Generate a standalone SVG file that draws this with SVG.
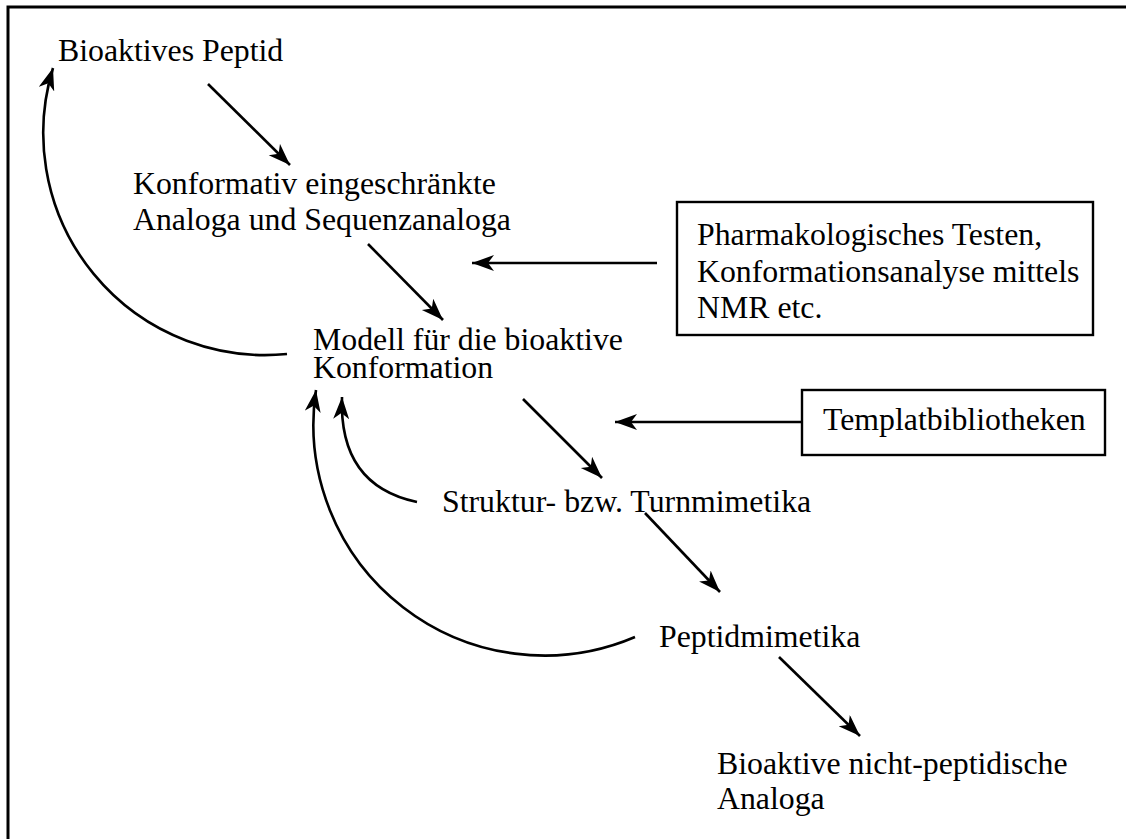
<svg xmlns="http://www.w3.org/2000/svg" width="1126" height="839" viewBox="0 0 1126 839">
<defs>
<style>
text{font-family:"Liberation Serif","Times New Roman",serif;font-size:31.8px;fill:#000}
.ln{fill:none;stroke:#000;stroke-width:2.6}
.box{fill:#fff;stroke:#000;stroke-width:2.4}
.frame{fill:none;stroke:#000;stroke-width:3}
</style>
<marker id="ah" markerUnits="userSpaceOnUse" markerWidth="24" markerHeight="18" refX="22" refY="8" orient="auto" viewBox="0 0 24 18">
<path d="M0,0 L22,8 L0,16 L6,8 Z" fill="#000"/>
</marker>
</defs>
<rect width="1126" height="839" fill="#fff"/>
<path class="frame" d="M8,839 V7 H1126"/>
<g id="connectors">
<path class="ln" d="M208,84 L290,165" marker-end="url(#ah)"/>
<path class="ln" d="M368,244 L443,320" marker-end="url(#ah)"/>
<path class="ln" d="M523,399 L602,478" marker-end="url(#ah)"/>
<path class="ln" d="M645,513 L720,592" marker-end="url(#ah)"/>
<path class="ln" d="M779,657 L860,736" marker-end="url(#ah)"/>
<path class="ln" d="M657,263 L472,263" marker-end="url(#ah)"/>
<path class="ln" d="M802,422 L615,422" marker-end="url(#ah)"/>
<path class="ln" d="M287,354 A222,222 0 0 1 53,68" marker-end="url(#ah)"/>
<path class="ln" d="M417,502 C360,490 340,450 342,397" marker-end="url(#ah)"/>
<path class="ln" d="M635,637 A231,231 0 0 1 316,390" marker-end="url(#ah)"/>
</g>
<g id="n-peptid"><text x="58" y="61">Bioaktives Peptid</text></g>
<g id="n-analoga"><text x="133" y="194">Konformativ eingeschränkte</text><text x="133" y="230">Analoga und Sequenzanaloga</text></g>
<g id="n-modell"><text x="313" y="350">Modell für die bioaktive</text><text x="313" y="378">Konformation</text></g>
<g id="n-struktur"><text x="442" y="512">Struktur- bzw. Turnmimetika</text></g>
<g id="n-peptidmimetika"><text x="659" y="647">Peptidmimetika</text></g>
<g id="n-nichtpeptid"><text x="717" y="774">Bioaktive nicht-peptidische</text><text x="717" y="809">Analoga</text></g>
<g id="n-pharma"><rect class="box" x="677" y="202" width="416" height="133"/><text x="697" y="245">Pharmakologisches Testen,</text><text x="697" y="282">Konformationsanalyse mittels</text><text x="697" y="318">NMR etc.</text></g>
<g id="n-templat"><rect class="box" x="802" y="390" width="303" height="65"/><text x="823" y="430">Templatbibliotheken</text></g>
</svg>
